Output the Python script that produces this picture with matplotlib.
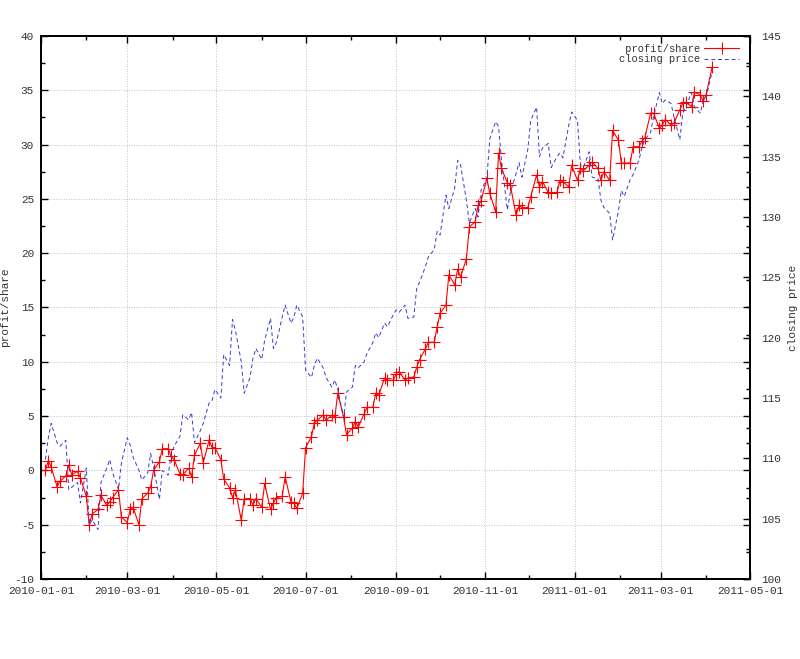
import matplotlib
matplotlib.use("Agg")
import matplotlib.pyplot as plt
import matplotlib.dates as mdates
from matplotlib.ticker import MultipleLocator
import pandas as pd

# profit/share and closing price, read every second trading day from 2010-01-04
profit_share = [
    0.0, 0.9, 0.3, -1.5, -1.0, -0.5, 0.5, -0.4, -0.1, -0.7,
    -2.4, -5.0, -4.0, -3.6, -2.3, -3.2, -2.9, -2.5, -1.8, -4.3,
    -4.8, -3.6, -3.4, -5.0, -2.6, -2.1, -1.5, 0.0, 0.8, 2.0,
    2.0, 1.3, 1.0, -0.3, -0.4, 0.2, -0.6, 1.4, 2.5, 0.7,
    2.8, 2.1, 2.1, 1.0, -0.8, -1.6, -2.5, -1.8, -4.6, -2.6,
    -2.6, -3.2, -2.6, -3.4, -1.2, -3.6, -3.0, -2.5, -2.4, -0.6,
    -2.9, -3.0, -3.5, -2.1, 2.1, 3.1, 4.4, 4.6, 5.1, 4.6,
    5.1, 4.9, 7.1, 4.9, 3.3, 3.9, 4.5, 4.0, 5.2, 5.8,
    5.8, 7.1, 6.9, 8.5, 8.3, 8.3, 8.9, 9.1, 8.3, 8.5,
    8.6, 9.5, 10.2, 11.2, 11.8, 11.8, 13.2, 14.5, 15.2, 18.0,
    17.1, 18.5, 17.8, 19.5, 22.4, 22.9, 24.4, 24.8, 26.9, 25.5,
    23.8, 29.2, 27.8, 26.5, 26.3, 23.5, 24.4, 24.2, 24.2, 25.2,
    27.2, 26.1, 26.6, 25.6, 25.5, 25.6, 26.7, 26.6, 26.1, 28.1,
    26.7, 27.8, 27.6, 28.1, 28.4, 27.8, 26.7, 27.5, 26.7, 31.3,
    30.4, 28.3, 28.3, 28.3, 29.8, 29.8, 30.3, 30.6, 32.9, 32.9,
    31.5, 31.8, 32.3, 31.8, 32.0, 33.2, 33.8, 33.9, 33.5, 34.8,
    34.6, 34.0, 34.6, 37.1,
]

closing_price = [
    109.9, 111.7, 112.9, 111.3, 111.0, 111.5, 107.4, 107.6, 108.0, 106.3,
    109.2, 104.5, 104.9, 104.1, 108.0, 109.2, 109.9, 108.8, 107.4, 109.6,
    111.7, 111.1, 110.1, 109.0, 108.2, 108.8, 110.4, 109.3, 106.6, 109.0,
    108.6, 110.3, 111.0, 111.8, 113.6, 113.2, 113.8, 111.3, 112.3, 112.9,
    114.6, 114.8, 115.7, 115.0, 118.6, 117.7, 121.5, 120.6, 118.0, 115.4,
    116.7, 118.3, 119.1, 118.2, 119.8, 121.6, 119.1, 119.6, 121.7, 122.7,
    121.2, 121.7, 122.7, 121.7, 117.3, 116.7, 117.7, 118.3, 117.5, 116.7,
    115.9, 116.5, 115.7, 113.4, 115.5, 115.9, 117.7, 117.5, 118.0, 118.7,
    119.6, 120.4, 120.0, 121.2, 120.9, 121.9, 122.3, 122.1, 122.7, 121.6,
    121.7, 124.1, 124.6, 125.9, 126.7, 127.3, 128.8, 128.5, 131.8, 130.7,
    132.4, 134.7, 134.3, 131.4, 129.5, 130.7, 130.0, 132.2, 133.2, 136.5,
    137.9, 137.5, 134.7, 130.6, 132.0, 133.6, 134.5, 133.3, 135.6, 138.0,
    139.1, 135.0, 135.7, 136.1, 134.1, 135.0, 135.3, 134.9, 137.6, 138.7,
    138.0, 134.3, 134.1, 135.4, 133.3, 133.2, 131.4, 130.8, 130.3, 128.1,
    130.5, 132.2, 131.7, 133.1, 133.5, 134.7, 135.7, 136.4, 137.0, 138.3,
    140.3, 139.4, 139.7, 139.4, 138.3, 136.4, 138.6, 139.1, 140.3, 139.1,
    138.6, 139.7, 139.9, 142.0,
]

dates = pd.bdate_range("2010-01-04", periods=2 * len(profit_share))[::2]

plt.rcParams["font.family"] = ["Liberation Mono", "DejaVu Sans Mono"]
plt.rcParams["font.size"] = 8
plt.rcParams["axes.unicode_minus"] = False

fig = plt.figure(figsize=(8, 6.59), dpi=100)
ax = fig.add_axes([0.05125, 0.1214, 0.88625, 0.824])
ax2 = ax.twinx()

l1, = ax.plot(dates, profit_share, color="#ff0000", lw=0.8, marker="+",
              markersize=9, markeredgewidth=0.8, label=" profit/share")
l2, = ax2.plot(dates, closing_price, color="#3a3ad0", lw=0.7,
               dashes=(4, 3), label="closing price")

ax.set_xlim(pd.Timestamp("2010-01-01"), pd.Timestamp("2011-05-01"))
ax.set_ylim(-10, 40)
ax2.set_ylim(100, 145)

ax.xaxis.set_major_locator(mdates.MonthLocator(bymonth=[1, 3, 5, 7, 9, 11]))
ax.xaxis.set_minor_locator(mdates.MonthLocator())
ax.xaxis.set_major_formatter(mdates.DateFormatter("%Y-%m-%d"))
ax.yaxis.set_major_locator(MultipleLocator(5))
ax.yaxis.set_minor_locator(MultipleLocator(2.5))
ax2.yaxis.set_major_locator(MultipleLocator(5))
ax2.yaxis.set_minor_locator(MultipleLocator(2.5))

ax.grid(True, which="major", color="#b0b0b0", ls=(0, (1, 2)), lw=0.6)

ax.tick_params(which="both", direction="in", top=True, right=True,
               labelright=False, colors="black", labelcolor="#333333", pad=5)
ax.tick_params(which="major", length=5, width=1)
ax.tick_params(which="minor", length=3, width=1)
ax2.tick_params(which="both", direction="in", labelcolor="#333333", pad=8)
ax2.tick_params(which="major", length=5, width=1)
ax2.tick_params(which="minor", length=3, width=1)

for a in (ax, ax2):
    for s in a.spines.values():
        s.set_linewidth(1.3)

ax.set_ylabel("profit/share", color="#333333")
ax.yaxis.set_label_coords(-0.044, 0.5)
ax2.set_ylabel("closing price", color="#333333", rotation=90)
ax2.yaxis.set_label_coords(1.054, 0.5)

leg = ax.legend(handles=[l1, l2], loc="upper right", bbox_to_anchor=(0.99, 0.993),
                frameon=False, markerfirst=False, handlelength=3.3,
                handletextpad=0.4, labelspacing=0.05, borderaxespad=0,
                fontsize=7.5)
for t in leg.get_texts():
    t.set_color("#333333")

fig.savefig("out.png", dpi=100)
